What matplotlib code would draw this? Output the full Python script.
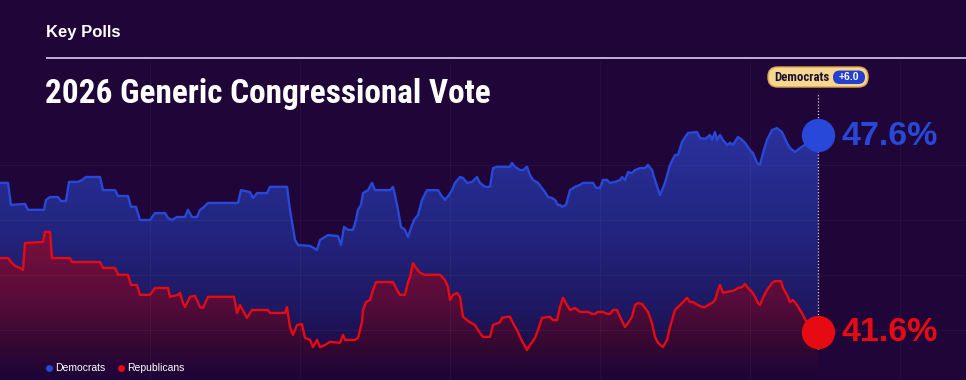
import matplotlib
matplotlib.use("Agg")
import matplotlib.pyplot as plt
import numpy as np
from matplotlib import font_manager
from matplotlib.font_manager import FontProperties
from matplotlib.patches import FancyBboxPatch, Polygon

# ---------------- data ----------------
dem_days = [0, 8, 11, 25, 28, 44, 46, 50, 58, 61,
            66, 69, 78, 82, 86, 100, 103, 115, 118, 128,
            131, 136, 140, 150, 155, 165, 168, 172, 177, 185,
            188, 192, 197, 200, 203, 208, 238, 241, 250, 253,
            257, 267, 270, 287, 290, 295, 298, 310, 317, 320,
            328, 338, 341, 344, 348, 353, 356, 358, 361, 363,
            368, 372, 375, 390, 393, 395, 398, 401, 405, 408,
            411, 414, 418, 422, 427, 438, 441, 445, 449, 452,
            455, 460, 463, 467, 472, 477, 480, 485, 490, 493,
            497, 510, 512, 515, 520, 523, 527, 530, 533, 538,
            545, 548, 552, 555, 558, 560, 562, 566, 570, 575,
            580, 583, 593, 596, 600, 603, 607, 610, 615, 620,
            622, 625, 628, 632, 635, 640, 645, 648, 652, 655,
            660, 665, 670, 675, 678, 682, 688, 697, 700, 705,
            710, 712, 715, 717, 720, 723, 727, 730, 733, 738,
            742, 745, 750, 753, 757, 760, 763, 767, 772, 777,
            782, 787, 790, 795, 800, 805, 810, 818]
dem_pct = [46.14, 46.14, 45.47, 45.50, 45.32, 45.32, 45.62, 45.71, 45.71, 45.59,
           45.59, 46.17, 46.17, 46.23, 46.32, 46.32, 45.92, 45.92, 45.74, 45.74,
           45.41, 45.41, 45.01, 45.01, 45.22, 45.22, 45.07, 45.01, 45.10, 45.10,
           45.32, 45.10, 45.10, 45.32, 45.38, 45.53, 45.53, 45.92, 45.86, 45.68,
           45.83, 45.83, 46.02, 46.02, 45.32, 44.40, 44.25, 44.22, 44.10, 44.40,
           44.55, 44.52, 44.25, 44.80, 44.71, 44.71, 45.01, 45.32, 45.47, 45.83,
           45.92, 46.14, 45.92, 45.92, 46.02, 45.77, 45.32, 44.80, 44.71, 44.49,
           44.77, 45.01, 45.16, 45.62, 45.92, 45.92, 45.77, 45.62, 45.77, 45.92,
           46.14, 46.32, 46.29, 46.14, 46.17, 46.32, 46.14, 46.02, 46.02, 46.59,
           46.63, 46.63, 46.75, 46.63, 46.53, 46.53, 46.63, 46.38, 46.23, 46.14,
           45.86, 45.71, 45.68, 45.62, 45.47, 45.47, 45.41, 45.47, 45.92, 46.02,
           46.08, 46.14, 46.14, 45.99, 45.99, 46.23, 46.23, 46.14, 46.17, 46.23,
           46.32, 46.23, 46.47, 46.44, 46.53, 46.59, 46.59, 46.69, 46.53, 46.23,
           45.77, 46.14, 46.69, 46.99, 46.99, 47.39, 47.66, 47.69, 47.51, 47.48,
           47.60, 47.45, 47.69, 47.45, 47.60, 47.45, 47.30, 47.36, 47.30, 47.54,
           47.45, 47.36, 47.14, 47.05, 46.75, 46.69, 47.05, 47.45, 47.75, 47.81,
           47.69, 47.36, 47.20, 47.08, 47.20, 47.30, 47.39, 47.60]

rep_days = [0, 8, 11, 15, 20, 23, 25, 43, 45, 50,
            52, 70, 72, 100, 103, 115, 118, 128, 131, 137,
            140, 150, 155, 168, 170, 178, 180, 183, 185, 190,
            195, 200, 203, 208, 234, 237, 240, 247, 252, 268,
            270, 285, 287, 290, 293, 297, 302, 305, 310, 313,
            317, 320, 325, 330, 340, 343, 345, 355, 358, 362,
            363, 366, 370, 373, 376, 393, 397, 400, 405, 408,
            410, 413, 416, 420, 425, 440, 445, 448, 450, 453,
            457, 460, 463, 467, 470, 475, 480, 483, 490, 493,
            500, 502, 507, 510, 513, 517, 520, 523, 527, 530,
            535, 538, 542, 550, 553, 557, 560, 563, 567, 570,
            575, 580, 588, 592, 595, 598, 603, 607, 610, 613,
            617, 620, 625, 628, 632, 635, 638, 642, 645, 648,
            652, 655, 658, 663, 667, 670, 675, 678, 683, 687,
            690, 693, 698, 702, 705, 708, 712, 715, 718, 720,
            723, 727, 732, 735, 738, 742, 745, 748, 752, 755,
            758, 760, 763, 767, 772, 775, 781, 783, 787, 790,
            793, 797, 800, 803, 807, 818]
rep_pct = [43.85, 43.85, 43.73, 43.61, 43.55, 43.49, 44.31, 44.34, 44.65, 44.65,
           43.85, 43.85, 43.73, 43.73, 43.55, 43.55, 43.34, 43.34, 43.03, 43.03,
           42.73, 42.73, 42.94, 42.94, 42.67, 42.73, 42.79, 42.48, 42.36, 42.67,
           42.70, 42.36, 42.33, 42.67, 42.67, 42.18, 42.42, 42.03, 42.27, 42.27,
           42.18, 42.18, 42.36, 41.75, 41.51, 41.81, 41.84, 41.42, 41.36, 41.14,
           41.36, 41.14, 41.20, 41.30, 41.27, 41.51, 41.36, 41.36, 41.42, 41.90,
           42.27, 42.51, 42.57, 42.88, 43.12, 43.12, 42.88, 42.73, 42.73, 43.12,
           43.27, 43.70, 43.55, 43.40, 43.34, 43.34, 43.18, 42.97, 42.57, 42.73,
           42.79, 42.67, 42.06, 41.96, 41.90, 41.81, 41.57, 41.45, 41.45, 41.81,
           41.90, 42.03, 42.06, 42.06, 41.87, 41.66, 41.45, 41.27, 41.05, 41.20,
           41.42, 41.66, 42.03, 42.06, 41.96, 41.96, 42.36, 42.64, 42.42, 42.27,
           42.33, 42.21, 42.21, 42.15, 42.15, 42.21, 42.21, 42.15, 42.15, 42.27,
           42.27, 42.06, 41.75, 41.87, 42.06, 42.42, 42.48, 42.45, 42.33, 42.21,
           41.87, 41.45, 41.27, 41.14, 41.36, 41.75, 42.27, 42.36, 42.51, 42.64,
           42.51, 42.51, 42.42, 42.36, 42.36, 42.42, 42.48, 42.57, 42.88, 43.03,
           42.79, 42.82, 42.85, 42.88, 42.94, 42.97, 43.06, 42.94, 42.82, 42.67,
           42.48, 42.42, 42.64, 42.88, 43.09, 43.15, 43.15, 42.94, 42.73, 42.51,
           42.57, 42.42, 42.27, 42.12, 41.87, 41.60]

header = "Key Polls"
title = "2026 Generic Congressional Vote"
series_names = ["Democrats", "Republicans"]
grid_pct = [41.67, 43.33, 45.0, 46.67]
grid_days = [150, 300, 450, 600, 750, 900]

# ---------------- style ----------------
BG = "#1f0538"
BLUE = "#2748d8"
RED = "#e60b12"
W, H = 966, 380


def has_font(name):
    try:
        font_manager.findfont(FontProperties(family=name), fallback_to_default=False)
        return True
    except Exception:
        return False


SANS = "Liberation Sans" if has_font("Liberation Sans") else "DejaVu Sans"


def weight_num(w):
    if isinstance(w, (int, float)):
        return w
    return font_manager.weight_dict.get(str(w).lower(), 400)


def find_condensed_bold():
    prefs = ["liberation sans narrow", "roboto condensed", "open sans condensed",
             "noto sans condensed", "dejavu sans condensed", "arial narrow"]
    found = []
    for f in font_manager.fontManager.ttflist:
        n = f.name.lower()
        fn = f.fname.lower()
        st = f.stretch
        cond = ("narrow" in n or "condensed" in n or "condensed" in fn or "narrow" in fn
                or (isinstance(st, str) and "condensed" in st)
                or (isinstance(st, (int, float)) and st < 500))
        if cond and weight_num(f.weight) >= 600 and "italic" not in fn and "oblique" not in fn:
            found.append(f)
    if not found:
        return None

    def rank(f):
        key = (f.name.lower() + " " + f.fname.lower())
        for i, p in enumerate(prefs):
            if p.split()[0] in key and ("narrow" in key or "condensed" in key):
                return i
        return len(prefs)
    found.sort(key=rank)
    return found[0].fname


COND_PATH = find_condensed_bold()


def cond_props(size):
    if COND_PATH:
        return FontProperties(fname=COND_PATH, size=size)
    return FontProperties(family=SANS, weight='bold', size=size)


fig = plt.figure(figsize=(W / 100, H / 100), dpi=100, facecolor=BG)
ax = fig.add_axes([0, 0, 1, 1])
ax.set_facecolor(BG)
YLO, YHI = 40.137, 51.71
XLO, XHI = 0, 966


def hex2rgb(h):
    h = h.lstrip('#')
    return np.array([int(h[i:i + 2], 16) for i in (0, 2, 4)]) / 255.0


def gradient_fill(xs, ys, stops, zorder):
    verts = [(xs[0], YLO)] + list(zip(xs, ys)) + [(xs[-1], YLO)]
    patch = Polygon(verts, closed=True, facecolor='none', edgecolor='none')
    ax.add_patch(patch)
    yy = np.linspace(YLO, YHI, 600)
    sv = [s[0] for s in stops]
    cols = np.array([np.array(s[1]) / 255.0 for s in stops])
    img = np.zeros((len(yy), 1, 3))
    for c in range(3):
        img[:, 0, c] = np.interp(yy, sv, cols[:, c])
    im = ax.imshow(img, extent=[XLO, XHI, YLO, YHI], origin='lower',
                   aspect='auto', zorder=zorder, interpolation='bilinear')
    im.set_clip_path(patch)


bg_rgb = tuple(int(v * 255) for v in hex2rgb(BG))
gradient_fill(dem_days, dem_pct,
              [(40.3, bg_rgb), (41.0, (30, 12, 68)), (42.3, (31, 24, 98)),
               (45.0, (35, 38, 130)), (48.0, (42, 50, 158))], 2)
gradient_fill(rep_days, rep_pct,
              [(40.3, bg_rgb), (41.2, (52, 8, 50)), (42.5, (86, 12, 58)),
               (44.7, (124, 16, 62))], 3)

for g in grid_pct:
    ax.axhline(g, color="white", alpha=0.04, lw=0.8, zorder=3.5)
for g in grid_days:
    ax.axvline(g, ymax=1 - 62 / H, color="white", alpha=0.04, lw=0.8, zorder=3.5)

ax.plot(dem_days, dem_pct, color=BLUE, lw=1.7, zorder=4, solid_joinstyle='round')
ax.plot(rep_days, rep_pct, color=RED, lw=1.7, zorder=4, solid_joinstyle='round')

ax.axvline(dem_days[-1], ymin=1 - 349 / H, ymax=1 - 93 / H, color="#d9cbe8",
           lw=0.9, ls=(0, (1, 1.5)), zorder=5)

ax.plot(dem_days[-1], dem_pct[-1], 'o', ms=24, color=BLUE, mec='none', zorder=6)
ax.plot(rep_days[-1], rep_pct[-1], 'o', ms=24, color=RED, mec='none', zorder=6)
ax.annotate(f"{dem_pct[-1]:.1f}%", (dem_days[-1], dem_pct[-1]), xytext=(24, -2),
            textcoords='offset pixels', ha='left', va='center', fontsize=24.5,
            fontweight='bold', color=BLUE, family=SANS, zorder=7)
ax.annotate(f"{rep_pct[-1]:.1f}%", (rep_days[-1], rep_pct[-1]), xytext=(24, -1),
            textcoords='offset pixels', ha='left', va='center', fontsize=24.5,
            fontweight='bold', color=RED, family=SANS, zorder=7)

ax.set_xlim(XLO, XHI)
ax.set_ylim(YLO, YHI)
ax.axis('off')

# ---------------- overlay (layout in pixels) ----------------
ov = fig.add_axes([0, 0, 1, 1], facecolor='none')
ov.set_xlim(0, W)
ov.set_ylim(H, 0)
ov.axis('off')

renderer = fig.canvas.get_renderer()


def fit_text(x, y, s, target_w, size, **kw):
    t = ov.text(x, y, s, fontproperties=cond_props(size), **kw)
    w = t.get_window_extent(renderer).width
    if w > target_w:
        t.set_fontproperties(cond_props(size * target_w / w))
    return t


ov.text(46, 32, header, ha='left', va='center', fontsize=12, fontweight='bold',
        color='white', family=SANS)
ov.plot([46, W], [58, 58], color="#dccdf0", lw=1.2, solid_capstyle='butt')
fit_text(45, 94, title, 446, 26, ha='left', va='center', color='white')

# badge
lead = series_names[0] if dem_pct[-1] >= rep_pct[-1] else series_names[1]
margin = abs(dem_pct[-1] - rep_pct[-1])
ov.add_patch(FancyBboxPatch((768, 67), 100, 20,
                            boxstyle="round,pad=0,rounding_size=9.5",
                            fc="#f7d890", ec="#dca24f", lw=1.0, zorder=5))
ov.add_patch(FancyBboxPatch((833, 70.5), 32, 13.5,
                            boxstyle="round,pad=0,rounding_size=6.7",
                            fc="#2440d0", ec='none', zorder=6))
fit_text(774, 77.5, lead, 55, 10, ha='left', va='center', color="#1c1030", zorder=7)
ov.text(849, 77.5, f"+{margin:.1f}", ha='center', va='center', fontsize=7.5,
        fontweight='bold', color='white', family=SANS, zorder=7)

# legend
for lx, name, col in [(49, series_names[0], BLUE), (121, series_names[1], RED)]:
    ov.plot(lx, 368, 'o', ms=5, color=col, mec='none')
    ov.text(lx + 6, 368, name, ha='left', va='center', fontsize=7.5,
            color='white', family=SANS)

fig.savefig("out.png", dpi=100, facecolor=BG)
